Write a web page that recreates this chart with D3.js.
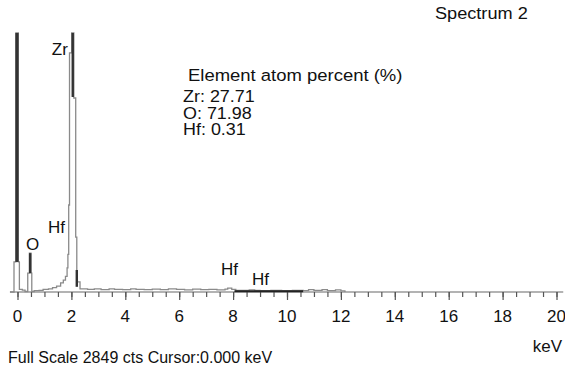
<!DOCTYPE html>
<html>
<head>
<meta charset="utf-8">
<script src="https://cdn.jsdelivr.net/npm/d3@7"></script>
<style>
  body { margin: 0; background: #fff; }
  svg { display: block; font-family: "Liberation Sans", Arial, sans-serif; }
  .lbl { fill: #111; }
</style>
</head>
<body>
<svg id="chart" width="565" height="369"></svg>
<script>
// spectrum as step channels: left edge (keV) and counts
const edges = [-0.28, -0.13, -0.06, 0.03, 0.07, 0.18, 0.28, 0.38, 0.44, 0.50, 0.53,
  0.62, 0.80, 0.95, 1.15, 1.30, 1.45, 1.60, 1.70, 1.78, 1.84, 1.87, 1.90, 1.93, 2.01,
  2.09, 2.16, 2.20, 2.32, 2.60, 2.85, 3.10, 3.40, 3.60, 3.90, 4.20, 4.40, 4.70, 5.00,
  5.30, 5.60, 5.90, 6.20, 6.50, 6.80, 7.10, 7.40, 7.70, 7.80, 7.95, 8.10, 8.60, 8.80,
  9.00, 9.40, 9.80, 10.20, 10.60, 10.80, 11.00, 11.30, 11.50, 11.80, 12.00, 12.15];
const counts = [0, 116, 1000, 116, 10, 7, 2, 73, 150, 73, 2,
  5, 6, 10, 12, 17, 23, 35, 46, 60, 93, 145, 336, 923, 1000,
  749, 212, 39, 12, 10, 12, 9, 12, 10, 9, 12, 10, 9, 11,
  9, 12, 10, 8, 11, 9, 10, 8, 11, 15, 10, 6, 8, 6,
  5, 6, 5, 6, 5, 9, 6, 9, 5, 8, 4, 0];

// dark cores of the tall peaks: centre keV, top and bottom counts
const coreKev = [-0.02, 0.47, 2.05, 2.20];
const coreTop = [1000, 150, 1000, 85];
const coreBottom = [116, 73, 753, 20];

// dense low-count band
const bandFrom = [8.05];
const bandTo = [10.6];

const peakNames = ["Zr", "Hf", "O", "Hf", "Hf"];
const peakKev = [1.87, 1.13, 0.32, 7.55, 8.7];
const peakCts = [915, 228, 162, 66, 27];
const peakAnchor = ["end", "start", "start", "start", "start"];

const tickValues = [0, 2, 4, 6, 8, 10, 12, 14, 16, 18, 20];
const tickLabels = ["0", "2", "4", "6", "8", "10", "12", "14", "16", "18", "20"];

const elements = ["Zr", "O", "Hf"];
const atomPct = ["27.71", "71.98", "0.31"];

const svg = d3.select("#chart");

const x = d3.scaleLinear().domain([0, 20]).range([17.5, 556.5]);
const y = d3.scaleLinear().domain([0, 1000]).range([292, 33]).clamp(true);

// the original text is drawn a little wide
function wideText(px, py, size, str, sx) {
  svg.append("text").attr("class", "lbl")
    .attr("transform", `translate(${px},${py}) scale(${sx || 1.1},1)`)
    .attr("font-size", size)
    .text(str);
}

// axis line and ticks
svg.append("line")
  .attr("x1", x(-0.28)).attr("x2", x(20.25))
  .attr("y1", y(0)).attr("y2", y(0))
  .attr("stroke", "#9a9a9a").attr("stroke-width", 1.6);

const minor = d3.axisBottom(x).tickValues(d3.range(0, 20.01, 0.5)).tickSize(5).tickFormat("");
const major = d3.axisBottom(x).tickValues(tickValues).tickSize(8).tickFormat("");
[minor, major].forEach(ax => {
  const g = svg.append("g").attr("transform", `translate(0,${y(0)})`).call(ax);
  g.select(".domain").remove();
  g.selectAll(".tick line").attr("stroke", "#555").attr("stroke-width", 1.2);
});

svg.append("g").selectAll("text")
  .data(tickValues)
  .join("text")
  .attr("class", "lbl")
  .attr("x", d => x(d))
  .attr("y", 322)
  .attr("text-anchor", "middle")
  .attr("font-size", 17)
  .text((d, i) => tickLabels[i]);

// spectrum outline
const pts = edges.map((e, i) => [e, counts[i]]);
const line = d3.line()
  .x(d => x(d[0]))
  .y(d => y(d[1]))
  .curve(d3.curveStepAfter);
svg.append("path")
  .datum(pts)
  .attr("d", line)
  .attr("fill", "none")
  .attr("stroke", "#8a8a8a")
  .attr("stroke-width", 1.3);

svg.append("g").selectAll("line")
  .data(coreKev)
  .join("line")
  .attr("x1", d => x(d)).attr("x2", d => x(d))
  .attr("y1", (d, i) => y(coreTop[i]))
  .attr("y2", (d, i) => y(coreBottom[i]))
  .attr("stroke", "#333")
  .attr("stroke-width", (d, i) => i === 0 ? 3.2 : 2.4);

svg.append("g").selectAll("line")
  .data(bandFrom)
  .join("line")
  .attr("x1", d => x(d)).attr("x2", (d, i) => x(bandTo[i]))
  .attr("y1", y(3)).attr("y2", y(3))
  .attr("stroke", "#222").attr("stroke-width", 2);

// peak labels
svg.append("g").selectAll("text")
  .data(peakNames)
  .join("text")
  .attr("class", "lbl")
  .attr("x", (d, i) => x(peakKev[i]))
  .attr("y", (d, i) => y(peakCts[i]))
  .attr("text-anchor", (d, i) => peakAnchor[i])
  .attr("font-size", 17)
  .text(d => d);

// annotations
wideText(435, 19, 16.5, "Spectrum 2");
wideText(188, 81, 16.8, "Element atom percent (%)");
elements.forEach((el, i) => wideText(183, 102 + i * 16.7, 15.6, `${el}: ${atomPct[i]}`, 1.15));

svg.append("text").attr("class", "lbl")
  .attr("x", 562).attr("y", 352).attr("text-anchor", "end").attr("font-size", 17)
  .text("keV");

svg.append("text").attr("class", "lbl")
  .attr("x", 8).attr("y", 363).attr("font-size", 16)
  .text("Full Scale 2849 cts Cursor:0.000 keV");
</script>
</body>
</html>
